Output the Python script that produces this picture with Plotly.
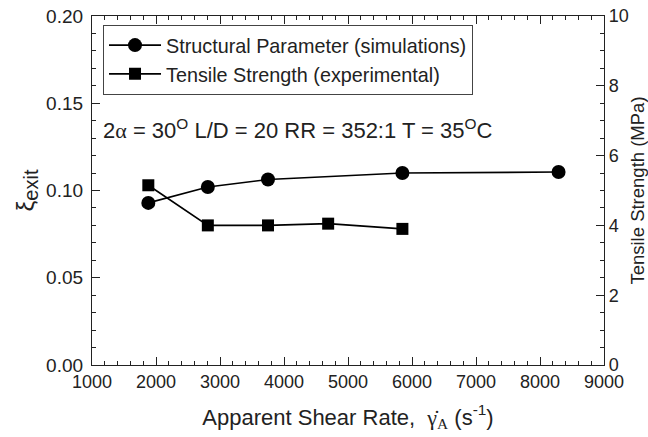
import plotly.graph_objects as go

# Data
shear_sim = [1880, 2810, 3750, 5850, 8290]
xi_exit = [0.0929, 0.102, 0.1063, 0.110, 0.1106]
shear_exp = [1880, 2810, 3750, 4690, 5850]
tensile = [5.15, 4.0, 4.0, 4.05, 3.9]

FONT = "Liberation Sans, Arial, sans-serif"
AX = "#222"
XR = [1000, 9000]
YR = [0, 0.2]
Y2R = [0, 10]

fig = go.Figure()
fig.add_trace(go.Scatter(
    x=shear_sim, y=xi_exit, mode="lines+markers",
    name="Structural Parameter (simulations)",
    line=dict(color="black", width=1.6),
    marker=dict(symbol="circle", size=14, color="black"),
    yaxis="y"))
fig.add_trace(go.Scatter(
    x=shear_exp, y=tensile, mode="lines+markers",
    name="Tensile Strength (experimental)",
    line=dict(color="black", width=1.6),
    marker=dict(symbol="square", size=12, color="black"),
    yaxis="y2"))

major = dict(showline=True, linecolor=AX, linewidth=1.3, ticks="inside", ticklen=8,
             tickcolor=AX, tickwidth=1.3, showgrid=False, zeroline=False, automargin=False)
minor = dict(ticks="inside", ticklen=4, tickcolor=AX, tickwidth=1.2, showgrid=False)

fig.update_layout(
    width=648, height=437,
    margin=dict(l=92, r=44, t=16, b=72, autoexpand=False),
    paper_bgcolor="white", plot_bgcolor="white",
    font=dict(family=FONT, size=18, color="#222"),
    showlegend=True,
    legend=dict(x=0.0215, y=0.975, xanchor="left", yanchor="top",
                bordercolor="#444", borderwidth=1, bgcolor="white",
                font=dict(size=19.8, family=FONT), tracegroupgap=0,
                itemwidth=52),
    xaxis=dict(range=XR, dtick=1000, tick0=1000, mirror="ticks",
               tickfont=dict(size=18), minor=dict(dtick=200, **minor), **major,
               title=dict(text="Apparent Shear Rate,  <span style='font-family:Liberation Serif'>γ̇<sub>A</sub></span> (s<sup>-1</sup>)",
                          font=dict(size=22), standoff=18)),
    yaxis=dict(range=YR, dtick=0.05, tickformat=".2f", ticklabelstandoff=4,
               tickfont=dict(size=19), minor=dict(dtick=0.01, **minor), **major,
               title=dict(text="<span style='font-size:24px'>ξ</span><sub><span style='font-size:20px'>exit</span></sub>",
                          font=dict(size=20), standoff=6)),
    yaxis2=dict(range=Y2R, dtick=2, overlaying="y", side="right", anchor="x",
                tickfont=dict(size=18), minor=dict(dtick=0.5, **minor), **major,
                title=dict(text="Tensile Strength (MPa)", font=dict(size=18.5), standoff=6)),
)

fig.add_annotation(
    xref="paper", yref="paper", x=0.018, y=0.675, xanchor="left", yanchor="middle",
    text="2<span style='font-family:Liberation Serif'>α</span> = 30<sup>O</sup> L/D = 20 RR = 352:1 T = 35<sup>O</sup>C",
    showarrow=False, font=dict(size=22, family=FONT, color="#222"))

fig.write_html("out.html")
